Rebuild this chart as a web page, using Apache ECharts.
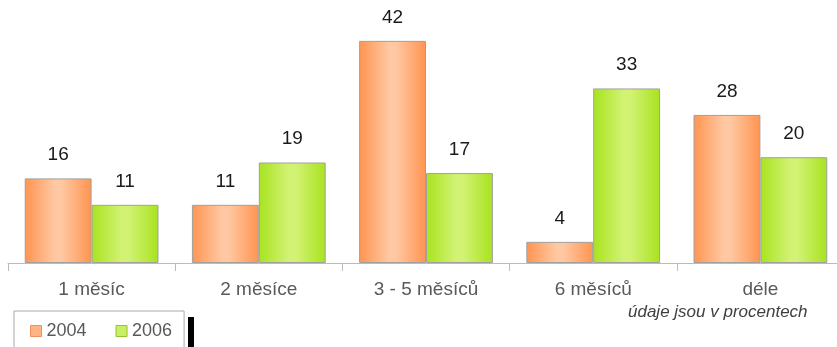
<!DOCTYPE html>
<html><head><meta charset="utf-8">
<script src="https://cdn.jsdelivr.net/npm/echarts@6/dist/echarts.min.js"></script>
<style>html,body{margin:0;padding:0;background:#fff;overflow:hidden}#c{width:860px;height:347px}</style>
</head><body><div id="c"></div>
<script>
const categories = ['1 měsíc', '2 měsíce', '3 - 5 měsíců', '6 měsíců', 'déle'];
const values2004 = [16, 11, 42, 4, 28];
const values2006 = [11, 19, 17, 33, 20];
const seriesNames = ['2004', '2006'];

const orangeGrad = new echarts.graphic.LinearGradient(0, 0, 1, 0, [
  {offset: 0, color: '#ff9450'}, {offset: 0.45, color: '#ffc8a2'}, {offset: 0.55, color: '#ffc8a2'}, {offset: 1, color: '#ff9450'}
]);
const greenGrad = new echarts.graphic.LinearGradient(0, 0, 1, 0, [
  {offset: 0, color: '#a8e31e'}, {offset: 0.45, color: '#d2f274'}, {offset: 0.55, color: '#d2f274'}, {offset: 1, color: '#a8e31e'}
]);
const FONT = 'Liberation Sans, Arial, sans-serif';

const chart = echarts.init(document.getElementById('c'), null, {renderer: 'canvas'});
chart.setOption({
  animation: false,
  grid: {left: 8, top: 25, width: 836, bottom: 84, containLabel: false},
  xAxis: {
    type: 'category', data: categories,
    axisLine: {lineStyle: {color: '#bbbbbb'}},
    axisTick: {show: true, length: 8, lineStyle: {color: '#bbbbbb'}},
    axisLabel: {color: '#595959', fontSize: 19, fontFamily: FONT, margin: 17}
  },
  yAxis: {type: 'value', min: 0, max: 45, show: false, splitLine: {show: false}},
  legend: {
    left: 14, top: 311, itemWidth: 11, itemHeight: 11, itemGap: 29,
    borderColor: '#aaaaaa', borderWidth: 1, padding: [11, 12, 20, 16],
    textStyle: {color: '#595959', fontSize: 18, fontFamily: FONT},
    data: [
      {name: seriesNames[0], icon: 'rect', itemStyle: {color: '#ffb483', borderColor: '#f09060', borderWidth: 1}},
      {name: seriesNames[1], icon: 'rect', itemStyle: {color: '#c8f060', borderColor: '#98c030', borderWidth: 1}}
    ]
  },
  graphic: [
    {type: 'rect', left: 188, top: 317, shape: {width: 6, height: 30}, style: {fill: '#000'}},
    {type: 'text', left: 628, top: 304, style: {text: 'údaje jsou v procentech', fill: '#404040', font: 'italic 17px Liberation Sans, Arial, sans-serif'}}
  ],
  series: [
    {name: seriesNames[0], type: 'bar', data: values2004, barGap: '0%', barCategoryGap: '20%',
     itemStyle: {color: orangeGrad, borderColor: '#a0a0a0', borderWidth: 1},
     label: {show: true, position: 'top', distance: 14, color: '#1a1a1a', fontSize: 19, fontFamily: FONT}},
    {name: seriesNames[1], type: 'bar', data: values2006,
     itemStyle: {color: greenGrad, borderColor: '#a0a0a0', borderWidth: 1},
     label: {show: true, position: 'top', distance: 14, color: '#1a1a1a', fontSize: 19, fontFamily: FONT}}
  ]
});
</script></body></html>
